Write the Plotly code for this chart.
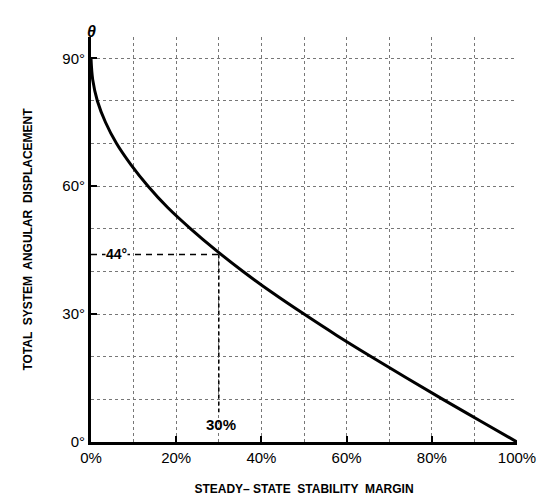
import plotly.graph_objects as go

# Curve: stability margin (%) vs angular displacement (deg)
margin_pct = [0, 0.4, 1.5, 3.4, 6.0, 9.4, 13.4, 18.0, 23.4, 29.3, 35.7, 42.6, 50.0, 57.7, 65.8, 74.1, 82.6, 91.3, 100]
theta_deg = [90, 85, 80, 75, 70, 65, 60, 55, 50, 45, 40, 35, 30, 25, 20, 15, 10, 5, 0]

x_tick_vals = [0, 20, 40, 60, 80, 100]
x_tick_text = ["0%", "20%", "40%", "60%", "80%", "100%"]
y_tick_vals = [0, 30, 60, 90]
y_tick_text = ["0°", "30°", "60°", "90°"]

marked_margin = 30
marked_theta = 44

font_family = "Liberation Sans, Arial, sans-serif"

fig = go.Figure()

# reference dashed lines
fig.add_trace(go.Scatter(x=[0, marked_margin], y=[marked_theta, marked_theta], mode="lines",
                         line=dict(color="black", width=1.5, dash="6px,5px"), hoverinfo="skip", showlegend=False))
fig.add_trace(go.Scatter(x=[marked_margin, marked_margin], y=[marked_theta, 7], mode="lines",
                         line=dict(color="black", width=1.5, dash="4px,3px"), hoverinfo="skip", showlegend=False))

# main curve
fig.add_trace(go.Scatter(x=margin_pct, y=theta_deg, mode="lines", line=dict(color="black", width=3, shape="spline"),
                         showlegend=False))

fig.add_annotation(x=6, y=marked_theta, text="<b>44°</b>", showarrow=False, bgcolor="white",
                   font=dict(family=font_family, size=14, color="black"), borderpad=0)
fig.add_annotation(x=marked_margin + 0.5, y=4, text="<b>30%</b>", showarrow=False,
                   font=dict(family=font_family, size=15, color="black"))
fig.add_annotation(x=0, y=1, xref="x", yref="paper", yshift=16, text="<b><i>θ</i></b>", showarrow=False,
                   font=dict(family=font_family, size=16, color="black"))

grid_color = "#777"
fig.update_xaxes(range=[0, 100], tickvals=x_tick_vals, ticktext=x_tick_text, automargin=False,
                 showline=True, linecolor="black", linewidth=3, mirror=False,
                 ticks="inside", ticklen=6, tickwidth=2, tickcolor="black",
                 showgrid=True, gridcolor=grid_color, gridwidth=1, griddash="dot",
                 minor=dict(dtick=10, tick0=0, showgrid=True, gridcolor=grid_color, gridwidth=1, griddash="dot"),
                 zeroline=False,
                 tickfont=dict(family=font_family, size=15, color="black"),
                 title=dict(text="<b>STEADY– STATE  STABILITY  MARGIN</b>", standoff=20,
                            font=dict(family=font_family, size=12, color="black")))
fig.update_yaxes(range=[0, 95], tickvals=y_tick_vals, ticktext=y_tick_text, automargin=False,
                 showline=True, linecolor="black", linewidth=3,
                 ticks="inside", ticklen=6, tickwidth=2, tickcolor="black",
                 showgrid=True, gridcolor=grid_color, gridwidth=1, griddash="dot",
                 minor=dict(dtick=10, tick0=0, showgrid=True, gridcolor=grid_color, gridwidth=1, griddash="dot"),
                 zeroline=False,
                 tickfont=dict(family=font_family, size=15, color="black"),
                 title=dict(text="<b>TOTAL  SYSTEM  ANGULAR  DISPLACEMENT</b>", standoff=28,
                            font=dict(family=font_family, size=12, color="black")))

fig.update_layout(width=546, height=495, margin=dict(l=83, r=37, t=29, b=61),
                  plot_bgcolor="white", paper_bgcolor="white")

fig.write_html("out.html")
